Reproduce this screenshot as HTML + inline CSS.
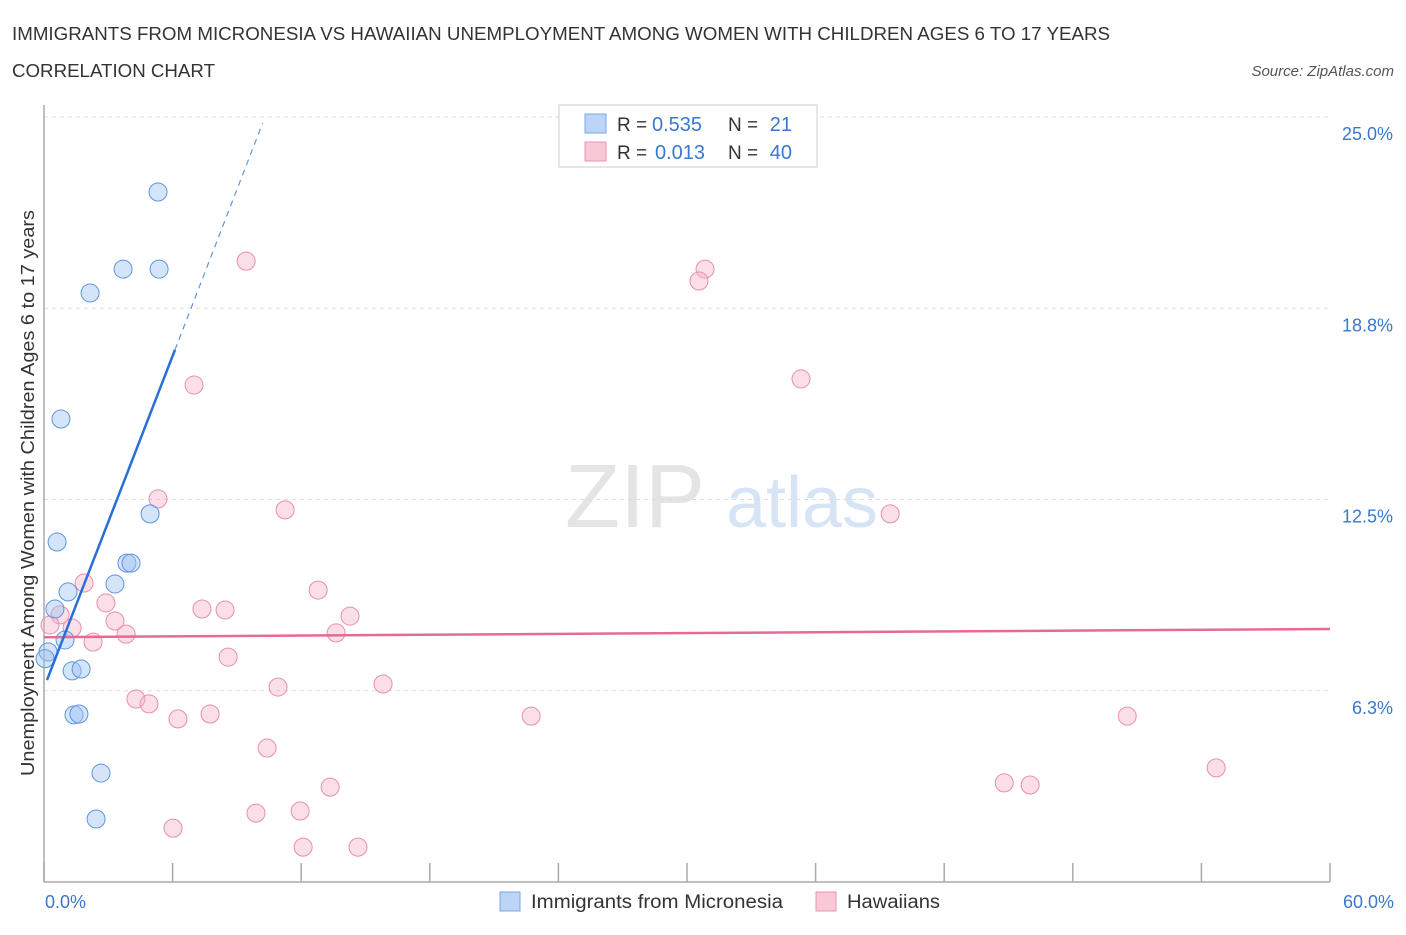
<!DOCTYPE html>
<html><head><meta charset="utf-8"><style>
body{margin:0;background:#fff;font-family:"Liberation Sans",sans-serif;}
svg text{font-family:"Liberation Sans",sans-serif;}
</style></head><body>
<svg width="1406" height="930" id="chart">
<text x="12" y="40" font-size="18" fill="#333" textLength="1098" lengthAdjust="spacingAndGlyphs">IMMIGRANTS FROM MICRONESIA VS HAWAIIAN UNEMPLOYMENT AMONG WOMEN WITH CHILDREN AGES 6 TO 17 YEARS</text>
<text x="12" y="77" font-size="18" fill="#333" textLength="203" lengthAdjust="spacingAndGlyphs">CORRELATION CHART</text>
<text x="1394" y="76" font-size="15" fill="#555" font-style="italic" text-anchor="end">Source: ZipAtlas.com</text>
<text x="635" y="527" font-size="90" fill="#e4e4e4" font-family="Liberation Serif" text-anchor="middle">ZIP</text>
<text x="802" y="527" font-size="72" fill="#d6e4f5" text-anchor="middle">atlas</text>
<g id="grid"></g>
<g id="axes"></g>
<g id="marks"></g>
<text transform="translate(34,493) rotate(-90)" font-size="18" fill="#333" text-anchor="middle" textLength="566" lengthAdjust="spacingAndGlyphs">Unemployment Among Women with Children Ages 6 to 17 years</text>
<text x="45" y="908" font-size="18" fill="#3a78d0">0.0%</text>
<text x="1394" y="908" font-size="18" fill="#3a78d0" text-anchor="end">60.0%</text>
<g>
<rect x="559" y="105" width="258" height="62" fill="#fff" stroke="#ccc"/>
<rect x="585" y="114" width="21" height="19" fill="#bcd4f6" stroke="#7aa7e6"/>
<text x="617" y="131" font-size="19" fill="#333">R =</text>
<text x="652" y="131" font-size="20" fill="#3a78d0">0.535</text>
<text x="728" y="131" font-size="19" fill="#333">N =</text>
<text x="792" y="131" font-size="20" fill="#3a78d0" text-anchor="end">21</text>
<rect x="585" y="142" width="21" height="19" fill="#f9c8d6" stroke="#ea93ad"/>
<text x="617" y="159" font-size="19" fill="#333">R =</text>
<text x="655" y="159" font-size="20" fill="#3a78d0">0.013</text>
<text x="728" y="159" font-size="19" fill="#333">N =</text>
<text x="792" y="159" font-size="20" fill="#3a78d0" text-anchor="end">40</text>
</g>
<g>
<rect x="500" y="892" width="20" height="19" fill="#bcd4f6" stroke="#7aa7e6"/>
<text x="531" y="908" font-size="19" fill="#333" textLength="252" lengthAdjust="spacingAndGlyphs">Immigrants from Micronesia</text>
<rect x="816" y="892" width="20" height="19" fill="#f9c8d6" stroke="#ea93ad"/>
<text x="847" y="908" font-size="19" fill="#333" textLength="93" lengthAdjust="spacingAndGlyphs">Hawaiians</text>
</g>
</svg>
<script>
const yTicks=[6.25,12.5,18.75,25];
const yTickLabels=["6.3%","12.5%","18.8%","25.0%"];
const xTicks=[0,6,12,18,24,30,36,42,48,54,60];
const blueX=[5.32,3.69,5.37,2.15,0.79,0.61,4.95,3.87,4.06,3.31,1.12,0.51,0.98,0.19,1.31,1.73,1.40,1.63,2.66,2.43,0.05];
const blueY=[22.55,20.03,20.03,19.25,15.13,11.11,12.03,10.42,10.42,9.74,9.48,8.92,7.91,7.52,6.90,6.96,5.46,5.49,3.56,2.06,7.3];
const pinkX=[9.43,30.84,30.56,7.0,35.32,5.32,11.25,39.48,1.87,12.79,2.89,7.37,8.45,14.28,0.75,1.31,3.31,3.83,13.63,2.29,8.59,10.92,15.82,4.29,4.90,6.25,7.75,22.73,50.54,10.41,54.69,44.8,46.01,13.35,9.89,11.95,6.02,12.09,14.65,0.28];
const pinkY=[20.29,20.03,19.64,16.24,16.44,12.52,12.16,12.03,9.77,9.54,9.12,8.92,8.89,8.69,8.73,8.30,8.53,8.10,8.14,7.84,7.35,6.37,6.47,5.98,5.82,5.33,5.49,5.42,5.42,4.38,3.73,3.24,3.17,3.10,2.25,2.32,1.76,1.14,1.14,8.4];
const blueTrend={x0:0.14,y0:6.6,x1:6.11,y1:17.39,x2:10.2,y2:24.8};
const pinkTrend={x0:0,y0:8.0,x1:60,y1:8.27};
const X0=44,X1=1330,Y0=882,YT=117;
const sx=v=>X0+v/60*(X1-X0);
const sy=v=>Y0-v/25*(Y0-YT);
const NS="http://www.w3.org/2000/svg";
function mk(tag,attrs,parent){const e=document.createElementNS(NS,tag);for(const k in attrs)e.setAttribute(k,attrs[k]);parent.appendChild(e);return e;}
const grid=document.getElementById('grid'),axes=document.getElementById('axes'),marks=document.getElementById('marks');
yTicks.forEach((t,i)=>{
 const g=mk('line',{x1:X0,x2:X1,y1:sy(t),y2:sy(t),stroke:'#ddd','stroke-dasharray':'4,4'},grid);
 
 
 const tx=mk('text',{x:1393,y:sy(t)+23,'font-size':18,fill:'#3a78d0','text-anchor':'end'},grid);
 tx.textContent=yTickLabels[i];
 
 
});
const ya=mk('line',{x1:X0,x2:X0,y1:105,y2:Y0,stroke:'#aaa','stroke-width':1.5},axes);


const xa=mk('line',{x1:X0,x2:X1,y1:Y0,y2:Y0,stroke:'#aaa','stroke-width':1.5},axes);


xTicks.forEach(t=>{
 const l=mk('line',{x1:sx(t),x2:sx(t),y1:Y0-19,y2:Y0,stroke:'#aaa','stroke-width':1.5},axes);
 
 
});
pinkX.forEach((v,i)=>{
 const c=mk('circle',{cx:sx(v),cy:sy(pinkY[i]),r:9,fill:'rgba(246,176,198,0.4)',stroke:'#e98fab','stroke-width':1},marks);
 
 
});
blueX.forEach((v,i)=>{
 const c=mk('circle',{cx:sx(v),cy:sy(blueY[i]),r:9,fill:'rgba(160,196,242,0.45)',stroke:'#5f95de','stroke-width':1},marks);
 
 
});
const pl=mk('line',{x1:sx(pinkTrend.x0),y1:sy(pinkTrend.y0),x2:sx(pinkTrend.x1),y2:sy(pinkTrend.y1),stroke:'#e56b95','stroke-width':2.5},marks);


const bl=mk('line',{x1:sx(blueTrend.x0),y1:sy(blueTrend.y0),x2:sx(blueTrend.x1),y2:sy(blueTrend.y1),stroke:'#2a6fd6','stroke-width':2.5},marks);


const bd=mk('line',{x1:sx(blueTrend.x1),y1:sy(blueTrend.y1),x2:sx(blueTrend.x2),y2:sy(blueTrend.y2),stroke:'#5f95de','stroke-width':1.2,'stroke-dasharray':'6,5'},marks);


</script>
</body></html>
